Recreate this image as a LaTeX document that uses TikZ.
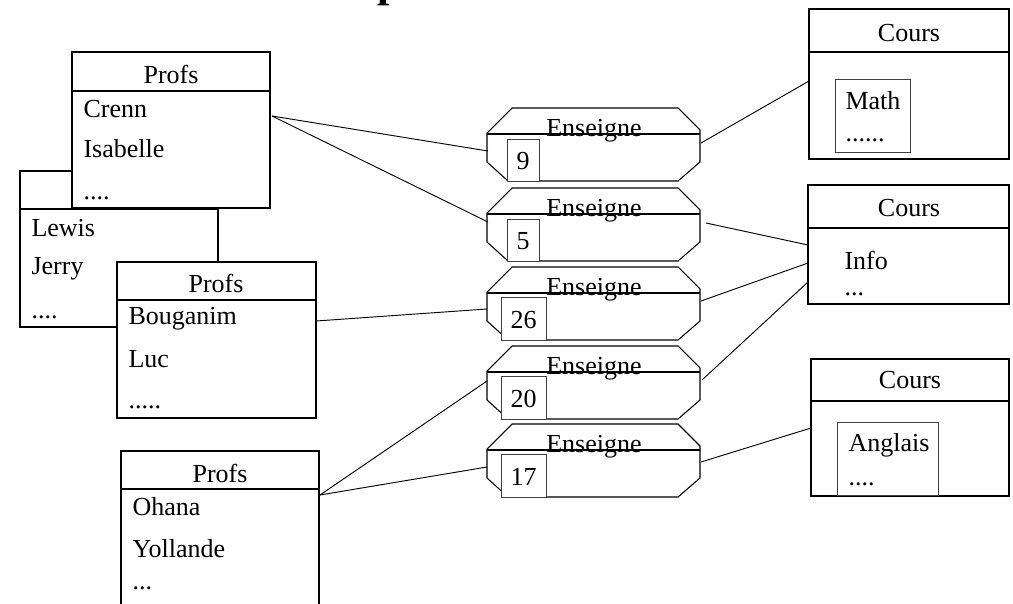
\documentclass[tikz,border=0pt]{standalone}
\usepackage{fontspec}
\setmainfont{Liberation Serif}
\usetikzlibrary{fit}
\newcommand\ensg[6]{% name, top, number, box left, box right, box top offset
  \draw[ensshape] (512,#2) -- (678,#2) -- (700,#2+22) -- (700,#2+54) -- (678,#2+73)
     -- (508,#2+73) -- (487,#2+54) -- (487,#2+25) -- cycle;
  \draw[ensshape] (487,#2+26) -- (700,#2+26);
  \node[ctxt] (#1t) at (594,#2+28) {Enseigne};
  \node[inbox, fit={(#4,#2+#6) (#5,#2+73)}] (#1b) {};
  \node[ctxt] (#1n) at ({(#4+#5)/2},#2+61) {#3};
}
\begin{document}
\begin{tikzpicture}[x=0.75pt,y=-0.75pt,line width=0.8pt,
  box/.style={draw, fill=white, inner sep=0pt},
  inbox/.style={draw=black!75, line width=0.7pt, fill=white, inner sep=0pt},
  ensshape/.style={draw, line width=0.8pt},
  txt/.style={anchor=base west, inner sep=0pt, font=\fontsize{19.5}{22}\selectfont},
  ctxt/.style={anchor=base, inner sep=0pt, font=\fontsize{19.5}{22}\selectfont},
  link/.style={draw, line width=0.7pt}]
\useasboundingbox (0,0) rectangle (1013,603);
\clip (0,0) rectangle (1013,603);
\fill[white] (0,0) rectangle (1013,603);

% title fragment (only the descender of the cut-off title shows)
\node[anchor=base west, inner sep=0pt, font=\bfseries\fontsize{33}{33}\selectfont] (title) at (377,-3) {p};

% Profs (Lewis) behind
\node[box, fit={(20,171) (218,327)}] (p2) {};
\draw (20,209) -- (218,209);
\node[txt] (p2a) at (31,236) {Lewis};
\node[txt] (p2b) at (31,274) {Jerry};
\node[txt] (p2c) at (31,318) {....};

% Profs (Crenn)
\node[box, fit={(72,52) (270,208)}] (p1) {};
\draw (72,91) -- (270,91);
\node[ctxt] (p1h) at (171,83) {Profs};
\node[txt] (p1a) at (83,117) {Crenn};
\node[txt] (p1b) at (83,157) {Isabelle};
\node[txt] (p1c) at (83,199) {....};

% Profs (Bouganim)
\node[box, fit={(117,262) (316,418)}] (p3) {};
\draw (117,300) -- (316,300);
\node[ctxt] (p3h) at (216,292) {Profs};
\node[txt] (p3a) at (128,324) {Bouganim};
\node[txt] (p3b) at (128,367) {Luc};
\node[txt] (p3c) at (128,408) {.....};

% Profs (Ohana)
\node[box, fit={(121,451) (319,640)}] (p4) {};
\draw (121,489) -- (319,489);
\node[ctxt] (p4h) at (220,482) {Profs};
\node[txt] (p4a) at (132,515) {Ohana};
\node[txt] (p4b) at (132,557) {Yollande};
\node[txt] (p4c) at (132,589) {...};

% Cours boxes
\node[box, fit={(809,9) (1009,159)}] (c1) {};
\draw (809,52) -- (1009,52);
\node[ctxt] (c1h) at (909,41) {Cours};
\node[inbox, fit={(835,79) (910,152)}] (c1i) {};
\node[txt] (c1a) at (845,109) {Math};
\node[txt] (c1b) at (845,141) {......};

\node[box, fit={(808,185) (1009,304)}] (c2) {};
\draw (808,228) -- (1009,228);
\node[ctxt] (c2h) at (909,216) {Cours};
\node[txt] (c2a) at (844,269) {Info};
\node[txt] (c2b) at (844,295) {...};

\node[box, fit={(811,359) (1009,496)}] (c3) {};
\draw (811,401) -- (1009,401);
\node[ctxt] (c3h) at (910,388) {Cours};
\node[inbox, fit={(837,422) (938,495)}] (c3i) {};
\node[txt] (c3a) at (848,451) {Anglais};
\node[txt] (c3b) at (848,485) {....};

% Enseigne shapes
\ensg{e1}{108}{9}{507}{539}{31}
\ensg{e2}{188}{5}{507}{539}{31}
\ensg{e3}{267}{26}{501}{546}{30}
\ensg{e4}{346}{20}{501}{546}{30}
\ensg{e5}{424}{17}{501}{546}{30}

% attach points
\coordinate (p1R) at (272,116);
\coordinate (p3R) at (316,321);
\coordinate (p4R) at (320,495);
\coordinate (e1L) at (488,151);
\coordinate (e2L) at (488,222);
\coordinate (e3L) at (487,309);
\coordinate (e4L) at (487,381);
\coordinate (e5L) at (487,467);
\coordinate (e1R) at (701,143);
\coordinate (e2R) at (706,223);
\coordinate (e3R) at (701,301);
\coordinate (e4R) at (702,380);
\coordinate (e5R) at (701,462);
\coordinate (c1L) at (809,81);
\coordinate (c2La) at (808,245);
\coordinate (c2Lb) at (808,263);
\coordinate (c2Lc) at (808,282);
\coordinate (c3L) at (811,428);

% connectors
\draw[link] (p1R) -- (e1L);
\draw[link] (p1R) -- (e2L);
\draw[link] (p3R) -- (e3L);
\draw[link] (p4R) -- (e4L);
\draw[link] (p4R) -- (e5L);
\draw[link] (e1R) -- (c1L);
\draw[link] (e2R) -- (c2La);
\draw[link] (e3R) -- (c2Lb);
\draw[link] (e4R) -- (c2Lc);
\draw[link] (e5R) -- (c3L);
\end{tikzpicture}
\end{document}
